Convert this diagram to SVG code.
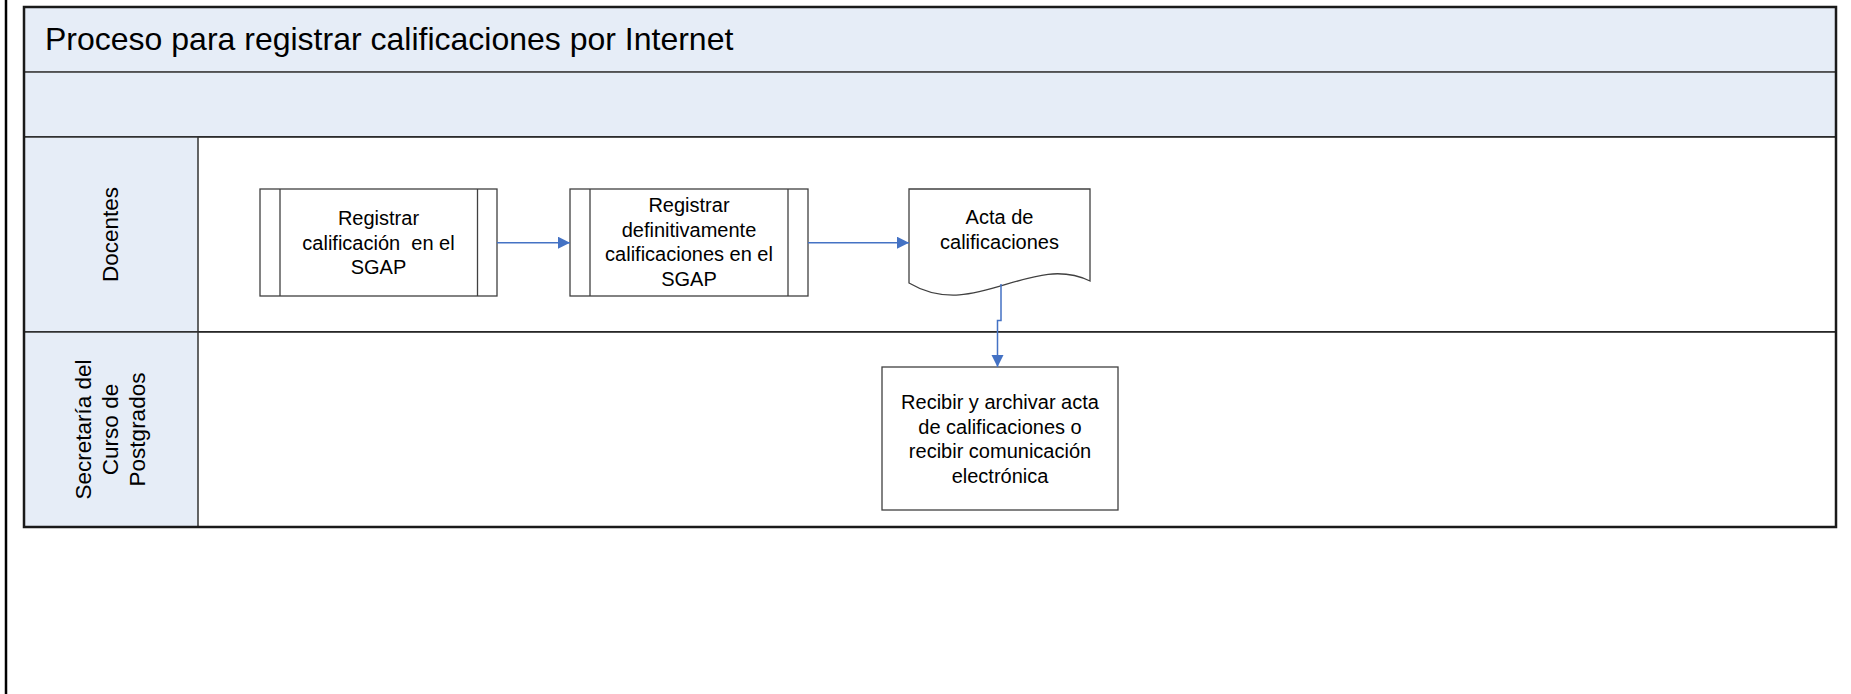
<svg xmlns="http://www.w3.org/2000/svg" width="1851" height="694" viewBox="0 0 1851 694">
<style>
.band{fill:#E6EDF7;stroke:#333;stroke-width:1.5}
.lane{fill:#FFFFFF;stroke:#1a1a1a;stroke-width:1.5}
.lbl{fill:#E6EDF7;stroke:#333;stroke-width:1.5}
.box{fill:#FFFFFF;stroke:#404040;stroke-width:1.3}
.inner{stroke:#404040;stroke-width:1.3;fill:none}
.t{font-family:"Liberation Sans",Arial,sans-serif;font-size:20px;fill:#000;text-anchor:middle;white-space:pre}
.lt{font-family:"Liberation Sans",Arial,sans-serif;font-size:22.5px;fill:#000;text-anchor:middle}
.title{font-family:"Liberation Sans",Arial,sans-serif;font-size:32px;fill:#000}
.conn{fill:none;stroke:#4472C4;stroke-width:1.5}
</style>
<defs>
<marker id="arr" markerUnits="userSpaceOnUse" markerWidth="13" markerHeight="13" refX="12" refY="6" orient="auto">
<path d="M0,0 L12,6 L0,12 Z" fill="#4472C4"/>
</marker>
</defs>
<rect x="0" y="0" width="1851" height="694" fill="#FFFFFF"/>
<line x1="6" y1="0" x2="6" y2="694" stroke="#000" stroke-width="2.5"/>
<g id="pool">
<rect class="band" x="24" y="7" width="1812" height="65" style="stroke:#999"/>
<rect class="band" x="24" y="72" width="1812" height="65"/>
<text class="title" x="45" y="50">Proceso para registrar calificaciones por Internet</text>
</g>
<g id="lane-docentes">
<rect class="lane" x="24" y="137" width="1812" height="195"/>
<rect class="lbl" x="24" y="137" width="174" height="195"/>
<text class="lt" transform="translate(110,234.5) rotate(-90)" x="0" y="8">Docentes</text>
</g>
<g id="lane-secretaria">
<rect class="lane" x="24" y="332" width="1812" height="195"/>
<rect class="lbl" x="24" y="332" width="174" height="195"/>
<text class="lt" transform="translate(110,429.5) rotate(-90)"><tspan x="0" y="-19">Secretaría del</tspan><tspan x="0" y="8">Curso de</tspan><tspan x="0" y="35">Postgrados</tspan></text>
</g>
<rect x="24" y="7" width="1812" height="520" fill="none" stroke="#1a1a1a" stroke-width="2.5"/>
<g id="n1">
<rect class="box" x="260" y="189" width="237" height="107"/>
<line class="inner" x1="280" y1="189" x2="280" y2="296"/>
<line class="inner" x1="477.5" y1="189" x2="477.5" y2="296"/>
<text class="t"><tspan x="378.5" y="225">Registrar</tspan><tspan x="378.5" y="249.5">calificación  en el</tspan><tspan x="378.5" y="274">SGAP</tspan></text>
</g>
<g id="n2">
<rect class="box" x="570" y="189" width="238" height="107"/>
<line class="inner" x1="590" y1="189" x2="590" y2="296"/>
<line class="inner" x1="788" y1="189" x2="788" y2="296"/>
<text class="t"><tspan x="689" y="212">Registrar</tspan><tspan x="689" y="236.5">definitivamente</tspan><tspan x="689" y="261">calificaciones en el</tspan><tspan x="689" y="285.5">SGAP</tspan></text>
</g>
<g id="n3">
<path class="box" d="M909,189 H1090 V281 C1030,252 975,322 909,283 Z"/>
<text class="t"><tspan x="999.5" y="224">Acta de</tspan><tspan x="999.5" y="249">calificaciones</tspan></text>
</g>
<g id="n4">
<rect class="box" x="882" y="367" width="236" height="143"/>
<text class="t"><tspan x="1000" y="409">Recibir y archivar acta</tspan><tspan x="1000" y="433.5">de calificaciones o</tspan><tspan x="1000" y="458">recibir comunicación</tspan><tspan x="1000" y="482.5">electrónica</tspan></text>
</g>
<g id="connectors">
<line class="conn" x1="497" y1="242.7" x2="570" y2="242.7" marker-end="url(#arr)"/>
<line class="conn" x1="808" y1="242.7" x2="909" y2="242.7" marker-end="url(#arr)"/>
<path class="conn" d="M1001,284 V320.5 H997.5 V367" marker-end="url(#arr)"/>
</g>
</svg>
